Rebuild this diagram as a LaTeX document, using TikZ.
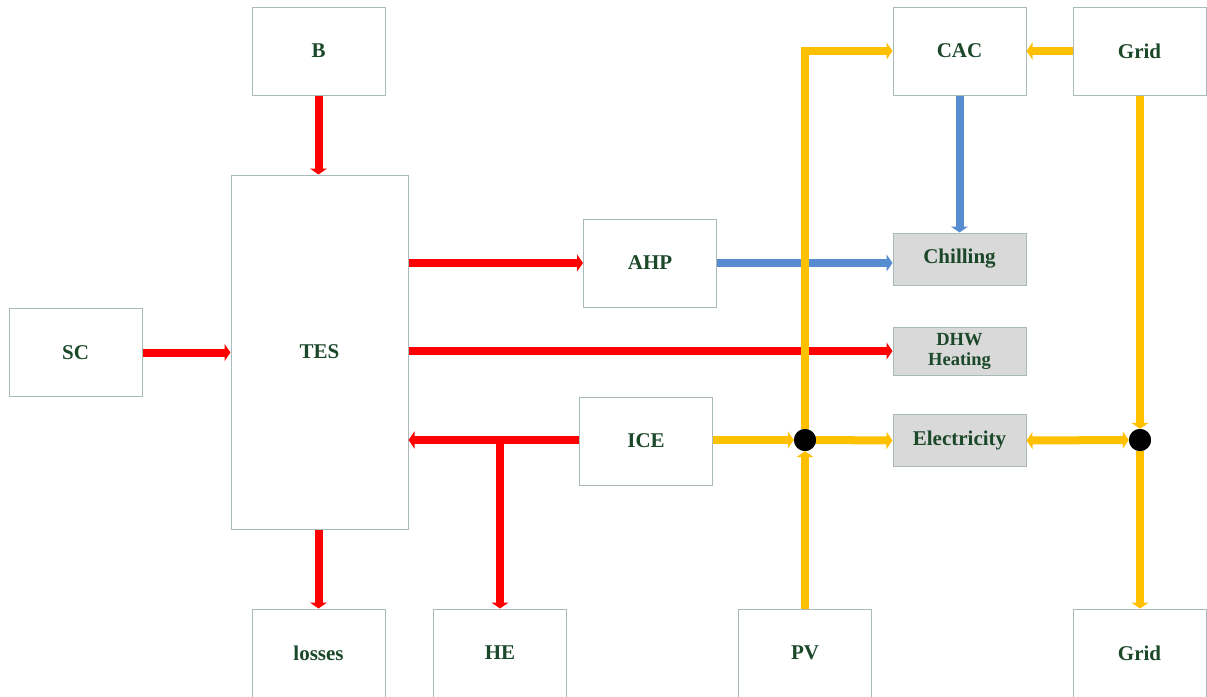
\documentclass[tikz,border=0pt]{standalone}
\usepackage{fontspec}
\setmainfont{Liberation Serif}
\usetikzlibrary{arrows.meta}
\definecolor{txtgreen}{RGB}{28,72,42}
\definecolor{boxline}{RGB}{170,186,186}
\definecolor{boxgray}{RGB}{217,217,217}
\definecolor{fred}{RGB}{255,0,0}
\definecolor{fblue}{RGB}{88,140,208}
\definecolor{forange}{RGB}{255,192,0}
\tikzset{
  blk/.style={draw=boxline, line width=1pt, minimum width=133pt, minimum height=88pt, inner sep=0pt,
    font=\fontsize{21}{24}\selectfont\bfseries, text=txtgreen, align=center},
  sink/.style={blk, fill=boxgray, minimum height=52pt},
  flow/.style={line width=8pt, -{Triangle[width=17pt,length=6pt]}},
  rflow/.style={flow, fred},
  bflow/.style={flow, fblue},
  oflow/.style={flow, forange},
  jdot/.style={circle, fill=black, minimum size=22pt, inner sep=0pt}
}
\begin{document}
\begin{tikzpicture}[x=1pt,y=-1pt]
\useasboundingbox (0,0) rectangle (1207,696);
% nodes
\node[blk] (B) at (318.5,51) {B};
\node[blk, minimum width=177pt, minimum height=354pt] (TES) at (319.5,352) {TES};
\node[blk] (SC) at (75.5,352.5) {SC};
\node[blk] (losses) at (318.5,653) {losses};
\node[blk] (HE) at (500,653) {HE};
\node[blk] (PV) at (805,653) {PV};
\node[blk] (gridB) at (1139.5,653) {Grid};
\node[blk] (AHP) at (650,263) {AHP};
\node[blk] (ICE) at (646,441) {ICE};
\node[blk] (CAC) at (959.5,51) {CAC};
\node[blk] (gridT) at (1139.5,51) {Grid};
\node[sink] (chill) at (959.5,259) {Chilling};
\node[sink, minimum height=48pt, font=\fontsize{18.5}{20}\selectfont\bfseries] (dhw) at (959.5,351) {DHW\\Heating};
\node[sink] (elec) at (959.5,440.5) {Electricity};
\node[jdot] (j1) at (805,440) {};
\node[jdot] (j2) at (1140,440) {};
\coordinate (hebr) at (500,440);
% red flows
\draw[rflow] (B.south) -- (B.south |- TES.north);
\draw[rflow] (SC.east) -- (SC.east -| TES.west);
\draw[rflow] (TES.east |- AHP.west) -- (AHP.west);
\draw[rflow] (TES.east |- dhw.west) -- (dhw.west);
\draw[rflow] (ICE.west |- j1) -- (TES.east |- j1);
\draw[rflow] (hebr) -- (HE.north);
\draw[rflow] (losses.north |- TES.south) -- (losses.north);
% blue flows
\draw[bflow] (AHP.east) -- (AHP.east -| chill.west);
\draw[bflow] (CAC.south) -- (chill.north);
% orange flows
\draw[oflow] (PV.north) -- (j1.south);
\draw[oflow] (j1.north) |- (CAC.west);
\draw[oflow] (ICE.east |- j1) -- (j1.west);
\draw[oflow] (j1.east) -- (elec.west);
\draw[oflow] (gridT.west) -- (CAC.east);
\draw[oflow] (gridT.south -| j2) -- (j2.north);
\draw[oflow, {Triangle[width=17pt,length=6pt]}-{Triangle[width=17pt,length=6pt]}] (elec.east) -- (j2.west);
\draw[oflow] (j2.south) -- (j2 |- gridB.north);
\node[jdot] at (j1) {};
\node[jdot] at (j2) {};
\end{tikzpicture}
\end{document}
